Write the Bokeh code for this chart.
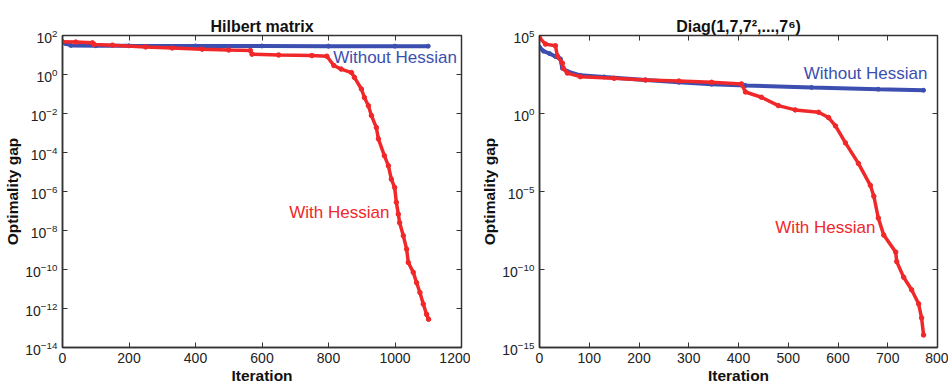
from bokeh.plotting import figure
from bokeh.layouts import row
from bokeh.models import (Range1d, FixedTicker, LinearAxis, LogTickFormatter,
                          CustomJSTickFormatter)
from bokeh.core.properties import value
from bokeh.embed import file_html
from bokeh.resources import INLINE

# ---------------- data ----------------
# Left panel: Hilbert matrix
hil_blue_iter = [0, 10, 25, 100, 200, 400, 600, 800, 1000, 1100]
hil_blue_gap = [44, 38, 31, 30, 29.5, 29, 29, 28.5, 28.5, 28.5]

hil_red_iter = [0, 40, 90, 95, 150, 250, 330, 420, 500, 565, 570, 650, 750, 795,
                816, 838, 869, 878, 899, 908, 920, 929, 944, 950, 968, 980, 989,
                999, 1004, 1010, 1014, 1025, 1035, 1040, 1055, 1065, 1075, 1085,
                1095, 1101]
hil_red_gap = [48, 46, 42, 35, 32, 26, 23, 20, 18, 17, 11, 10, 9.3, 8.7,
               2.9, 1.9, 1.26, 0.71, 0.18, 0.066, 0.025, 0.0079, 0.0019, 5.0e-4,
               6.9e-5, 2.1e-5, 4.3e-6, 1.6e-6, 2.8e-7, 6.9e-8, 2.5e-8, 5.4e-9,
               1.1e-9, 2.3e-10, 7.1e-11, 2.1e-11, 6.6e-12, 1.7e-12, 5.0e-13, 2.8e-13]

# Right panel: Diag(1,7,7^2,...,7^6)
diag_blue_iter = [0, 8, 20, 32, 42, 46, 56, 82, 130, 213, 280, 346, 414, 547, 681, 772]
diag_blue_gap = [1.8e4, 1.0e4, 7.0e3, 4.5e3, 3.2e3, 800, 500, 280, 220, 140, 100,
                 76, 63, 47, 36, 31]

diag_red_iter = [0, 12, 32, 36, 46, 48, 56, 82, 150, 213, 280, 346, 406, 414, 446,
                 480, 514, 561, 581, 595, 615, 641, 665, 672, 681, 692, 716, 718,
                 732, 748, 762, 768, 772]
diag_red_gap = [7.1e4, 2.8e4, 2.2e4, 4.8e3, 1.7e3, 790, 390, 230, 180, 140, 120,
                100, 79, 24, 11, 3.2, 1.7, 1.2, 0.55, 0.16, 0.013, 6.3e-4, 2.5e-5,
                5.0e-6, 2.0e-7, 1.6e-8, 1.3e-9, 3.2e-10, 3.2e-11, 5.0e-12, 6.3e-13,
                7.9e-14, 6.3e-15]

hil_xticks = [0, 200, 400, 600, 800, 1000, 1200]
hil_yticks = [1e2, 1e0, 1e-2, 1e-4, 1e-6, 1e-8, 1e-10, 1e-12, 1e-14]
diag_xticks = [0, 100, 200, 300, 400, 500, 600, 700, 800]
diag_yticks = [1e5, 1e0, 1e-5, 1e-10, 1e-15]

BLUE = "#3c4fb0"
RED = "#f0282a"
FONT = "Liberation Sans"


def make_panel(title, xr, yr, xticks, yticks, w, mbl, mbr, mbt, mbb):
    p = figure(width=w, height=386, x_range=Range1d(*xr), y_range=Range1d(*yr),
               y_axis_type="log", output_backend="svg", toolbar_location=None,
               min_border_left=mbl, min_border_right=mbr, min_border_top=mbt,
               min_border_bottom=mbb, title=title)
    p.title.align = "center"
    p.title.text_font = FONT
    p.title.text_font_size = "16px"
    p.title.text_font_style = "bold"
    p.title.text_color = "#111111"
    p.title.standoff = 2
    p.xgrid.grid_line_color = None
    p.ygrid.grid_line_color = None
    p.outline_line_color = "#333333"
    p.outline_line_width = 1.5
    p.background_fill_color = "white"
    p.border_fill_color = "white"

    p.xaxis.ticker = FixedTicker(ticks=xticks)
    p.yaxis.ticker = FixedTicker(ticks=yticks)
    p.yaxis.formatter = LogTickFormatter()
    for ax in (p.xaxis[0], p.yaxis[0]):
        ax.major_tick_in = 5
        ax.major_tick_out = 0
        ax.minor_tick_line_color = None
        ax.axis_line_color = "#333333"
        ax.axis_line_width = 1.5
        ax.major_tick_line_color = "#333333"
        ax.major_label_text_font = FONT
        ax.major_label_text_font_size = "14px"
        ax.major_label_text_color = "#222222"
        ax.axis_label_text_font = FONT
        ax.axis_label_text_font_size = "15.5px"
        ax.axis_label_text_font_style = "bold"
        ax.axis_label_text_color = "#111111"
    p.xaxis.major_label_standoff = 5
    p.xaxis.axis_label_standoff = 1
    p.yaxis.major_label_standoff = 5
    p.yaxis.axis_label_standoff = 1
    p.xaxis.axis_label = "Iteration"
    p.yaxis.axis_label = "Optimality gap"

    blank = CustomJSTickFormatter(code="return ''")
    top = LinearAxis(ticker=FixedTicker(ticks=xticks), formatter=blank)
    right = LinearAxis(ticker=FixedTicker(ticks=yticks), formatter=blank)
    for ax in (top, right):
        ax.major_tick_in = 5
        ax.major_tick_out = 0
        ax.minor_tick_line_color = None
        ax.axis_line_color = None
        ax.major_tick_line_color = "#333333"
        ax.major_label_text_font_size = "1px"
        ax.major_label_standoff = 0
    p.add_layout(top, "above")
    p.add_layout(right, "right")
    return p


p1 = make_panel("Hilbert matrix", (0, 1200), (1e-14, 1e2), hil_xticks, hil_yticks,
                470, 62, 9, 33, 39)
p1.line(hil_blue_iter, hil_blue_gap, line_color=BLUE, line_width=4)
p1.scatter(hil_blue_iter, hil_blue_gap, size=4, color=BLUE)
p1.line(hil_red_iter, hil_red_gap, line_color=RED, line_width=3.5)
p1.scatter(hil_red_iter, hil_red_gap, size=4.5, color=RED, marker="circle")
p1.text(x=[814], y=[7.4], text=["Without Hessian"], text_color=BLUE,
        text_font=value(FONT), text_font_size="17px", text_baseline="middle")
p1.text(x=[682], y=[8.3e-8], text=["With Hessian"], text_color=RED,
        text_font=value(FONT), text_font_size="17px", text_baseline="middle")

p2 = make_panel("Diag(1,7,7²,...,7⁶)", (0, 800), (1e-15, 1e5), diag_xticks, diag_yticks,
                478, 69, 11, 35, 39)
p2.line(diag_blue_iter, diag_blue_gap, line_color=BLUE, line_width=4)
p2.scatter(diag_blue_iter, diag_blue_gap, size=4, color=BLUE)
p2.line(diag_red_iter, diag_red_gap, line_color=RED, line_width=3.5)
p2.scatter(diag_red_iter, diag_red_gap, size=4.5, color=RED, marker="circle")
p2.text(x=[531], y=[390], text=["Without Hessian"], text_color=BLUE,
        text_font=value(FONT), text_font_size="17px", text_baseline="middle")
p2.text(x=[474], y=[5.2e-8], text=["With Hessian"], text_color=RED,
        text_font=value(FONT), text_font_size="17px", text_baseline="middle")

layout = row(p1, p2)
open("out.html", "w").write(file_html(layout, INLINE))
